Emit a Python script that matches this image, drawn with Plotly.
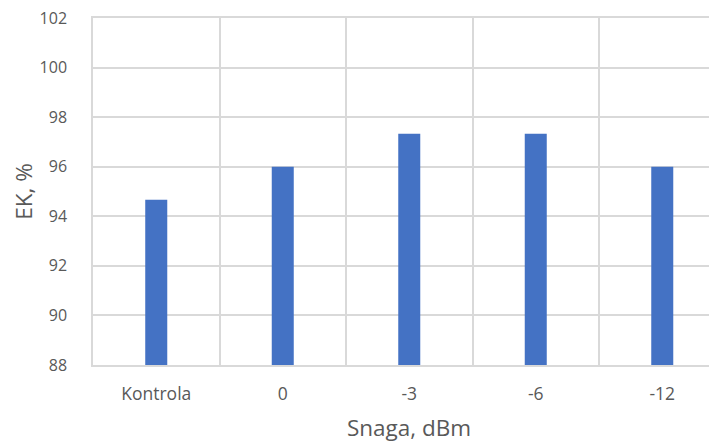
import plotly.graph_objects as go

categories = ["Kontrola", "0", "-3", "-6", "-12"]
values = [94.67, 96.0, 97.33, 97.33, 96.0]
y_ticks = [88, 90, 92, 94, 96, 98, 100, 102]

grid = "#d9d9d9"
txt = "#595959"
font_family = "Open Sans, sans-serif"

fig = go.Figure(go.Bar(
    x=categories, y=values,
    marker=dict(color="#4472C4", line=dict(width=0)),
    width=0.174,
))

fig.update_layout(
    width=717, height=443,
    margin=dict(l=85, r=0, t=10, b=86),
    plot_bgcolor="white", paper_bgcolor="white",
    showlegend=False,
    font=dict(family=font_family, color=txt, size=17),
)
fig.update_xaxes(
    type="category",
    range=[-0.5, 4.496],
    tickson="boundaries",
    automargin=False,
    showgrid=True, gridcolor=grid, gridwidth=1.5,
    showline=True, mirror=True, linecolor=grid, linewidth=1.5,
    ticks="", ticklen=0,
    ticklabelstandoff=12,
    tickfont=dict(size=17.5, color=txt),
    title=dict(text="Snaga, dBm", font=dict(size=22.5, color=txt), standoff=16),
)
fig.update_yaxes(
    range=[88, 102],
    tickvals=y_ticks,
    automargin=False,
    showgrid=True, gridcolor=grid, gridwidth=1.5,
    zeroline=False,
    showline=True, linecolor=grid, linewidth=1.5,
    ticks="", ticklen=0,
    ticklabelstandoff=21,
    ticklabeloverflow="allow",
    tickfont=dict(size=16, color=txt),
    title=dict(text="EK, %", font=dict(size=22.5, color=txt), standoff=8),
)

fig.write_html("out.html")
